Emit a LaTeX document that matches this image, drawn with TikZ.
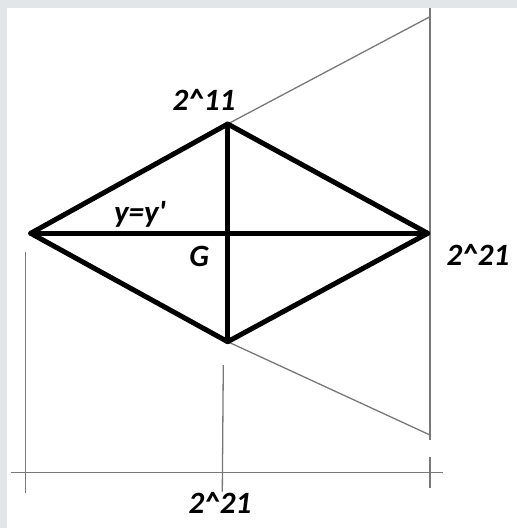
\documentclass[tikz,border=0pt]{standalone}
\usepackage{fontspec}
\setmainfont{Carlito}
\usepackage{xcolor}
\definecolor{pagegrey}{HTML}{E2E6E8}
\definecolor{guidegrey}{HTML}{787878}
\usetikzlibrary{positioning}

\begin{document}
\begin{tikzpicture}[x=1pt, y=-1pt,
  edge/.style={line width=5pt, line join=round, line cap=round},
  guide/.style={guidegrey, line width=1.3pt},
  lbl/.style={font=\fontsize{31}{31}\selectfont\bfseries\itshape, inner sep=0pt}
]
% page
\fill[pagegrey] (0,0) rectangle (517,528);
\fill[white] (7,8) rectangle (517,528);
\useasboundingbox (0,0) rectangle (517,528);

% rhombus corners
\coordinate (L) at (30.7,233.3);
\coordinate (T) at (227.7,124);
\coordinate (R) at (427.7,233.3);
\coordinate (B) at (227.7,341.7);

% guide ends
\coordinate (rtop) at (430,8);
\coordinate (rup) at (430,16.7);
\coordinate (rlow) at (430,435);
\coordinate (rend) at (430,440);
\coordinate (rtick1) at (430,457);
\coordinate (rtick2) at (430,488);
\coordinate (ltop) at (25.3,251.7);
\coordinate (lbot) at (25.3,492.7);
\coordinate (mtop) at (223.3,365);
\coordinate (mbot) at (222.3,491.7);
\coordinate (dimL) at (10.7,472.7);
\coordinate (dimR) at (442.7,472.7);

% thin construction lines
\draw[guide] (rtop) -- (rend);
\draw[guide] (rtick1) -- (rtick2);
\draw[guide] (T) -- (rup);
\draw[guide] (B) -- (rlow);
\draw[guide] (ltop) -- (lbot);
\draw[guide] (mtop) -- (mbot);
\draw[guide] (dimL) -- (dimR);

% rhombus and diagonals
\draw[edge] (L) -- (T) -- (R) -- (B) -- cycle;
\draw[edge] (L) -- (R);
\draw[edge] (T) -- (B);

% labels
\node[lbl] (top) at (204,100) {2\textasciicircum 11};
\node[lbl] (eq) at (140,214.5) {y=y\textquotesingle};
\node[lbl] (g) at (199.3,256.7) {G};
\node[lbl] (right) at (478,255) {2\textasciicircum 21};
\node[lbl] (bottom) at (220,503) {2\textasciicircum 21};
\end{tikzpicture}
\end{document}
